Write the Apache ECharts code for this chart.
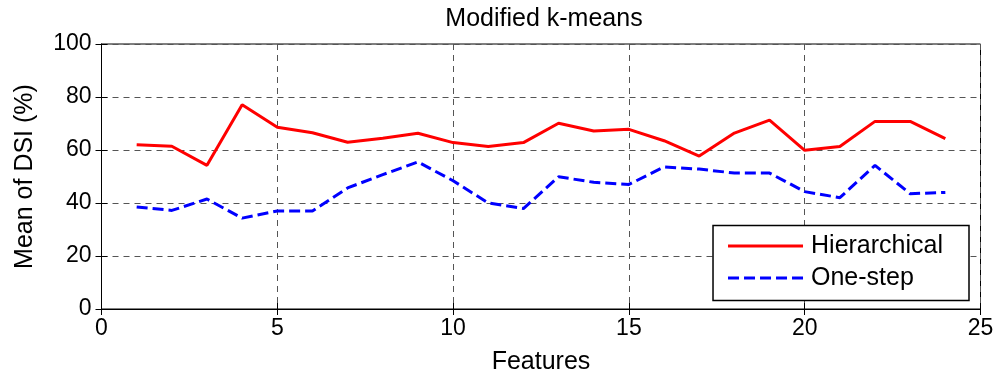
<!DOCTYPE html>
<html><head><meta charset="utf-8">
<script src="https://cdn.jsdelivr.net/npm/echarts@6/dist/echarts.min.js"></script>
<style>html,body{margin:0;padding:0;background:#fff}#c{width:998px;height:380px}</style>
</head><body><div id="c"></div>
<script>
const features = [1,2,3,4,5,6,7,8,9,10,11,12,13,14,15,16,17,18,19,20,21,22,23,24];
const hierarchical = [62.0,61.4,54.2,77.1,68.6,66.5,62.9,64.4,66.3,62.8,61.3,62.8,70.1,67.2,67.8,63.5,57.7,66.4,71.3,59.9,61.3,70.8,70.8,64.3];
const oneStep = [38.5,37.2,41.5,34.3,37.0,37.0,45.7,50.7,55.5,48.4,40.0,37.9,49.9,47.8,47.0,53.6,52.8,51.3,51.3,44.3,42.0,54.2,43.5,44.0];
const title = 'Modified k-means';
const xName = 'Features';
const yName = 'Mean of DSI (%)';

const font = 'Liberation Sans, Arial, sans-serif';
const chart = echarts.init(document.getElementById('c'));
const gridLine = {show:true, lineStyle:{color:'#555', type:[6,5], width:1}};
const solidIcon = 'path://M0,0h75v3h-75z';
const dashIcon = 'path://M0,0h11v3h-11z M16,0h11v3h-11z M32,0h11v3h-11z M48,0h11v3h-11z M64,0h11v3h-11z';
chart.setOption({
  animation:false,
  title:{text:title, left:539, top:2, textAlign:'center', textStyle:{fontFamily:font, fontSize:25, fontWeight:'normal', color:'#000'}},
  grid:{left:101.5, right:17.5, top:44, bottom:70, show:true, borderColor:'#000', borderWidth:1, backgroundColor:'transparent'},
  legend:{
    right:29, top:225.5, orient:'vertical',
    backgroundColor:'#fff', borderColor:'#000', borderWidth:1.5,
    padding:[8,26,10,15], itemGap:7, itemWidth:75, itemHeight:3, symbolKeepAspect:false,
    textStyle:{fontFamily:font, fontSize:25, color:'#000', padding:[0,0,0,3]},
    data:[{name:'Hierarchical', icon:solidIcon},{name:'One-step', icon:dashIcon}]
  },
  xAxis:[{
    type:'value', min:0, max:25, interval:5,
    name:xName, nameLocation:'middle', nameGap:41,
    nameTextStyle:{fontFamily:font, fontSize:25, color:'#000'},
    axisLine:{show:true, lineStyle:{color:'#000'}},
    axisTick:{show:true, inside:true, length:6, lineStyle:{color:'#000'}},
    axisLabel:{fontFamily:font, fontSize:23, color:'#000', margin:8},
    splitLine:gridLine
  },{
    type:'value', min:0, max:25, interval:5, position:'top',
    axisLine:{show:true, lineStyle:{color:'#000'}},
    axisTick:{show:true, inside:true, length:6, lineStyle:{color:'#000'}},
    axisLabel:{show:false}, splitLine:{show:false}
  }],
  yAxis:[{
    type:'value', min:0, max:100, interval:20,
    name:yName, nameLocation:'middle', nameGap:64,
    nameTextStyle:{fontFamily:font, fontSize:25, color:'#000'},
    axisLine:{show:true, lineStyle:{color:'#000'}},
    axisTick:{show:true, inside:true, length:6, lineStyle:{color:'#000'}},
    axisLabel:{fontFamily:font, fontSize:23, color:'#000', margin:10},
    splitLine:gridLine
  },{
    type:'value', min:0, max:100, interval:20, position:'right',
    axisLine:{show:true, lineStyle:{color:'#000'}},
    axisTick:{show:true, inside:true, length:6, lineStyle:{color:'#000'}},
    axisLabel:{show:false}, splitLine:{show:false}
  }],
  series:[
    {name:'Hierarchical', type:'line', showSymbol:false, symbol:'none', color:'#ff0000',
     lineStyle:{color:'#ff0000', width:3}, data:features.map((f,i)=>[f,hierarchical[i]])},
    {name:'One-step', type:'line', showSymbol:false, symbol:'none', color:'#0000ff',
     lineStyle:{color:'#0000ff', width:3, type:[11,5]}, data:features.map((f,i)=>[f,oneStep[i]])}
  ]
});
</script></body></html>
